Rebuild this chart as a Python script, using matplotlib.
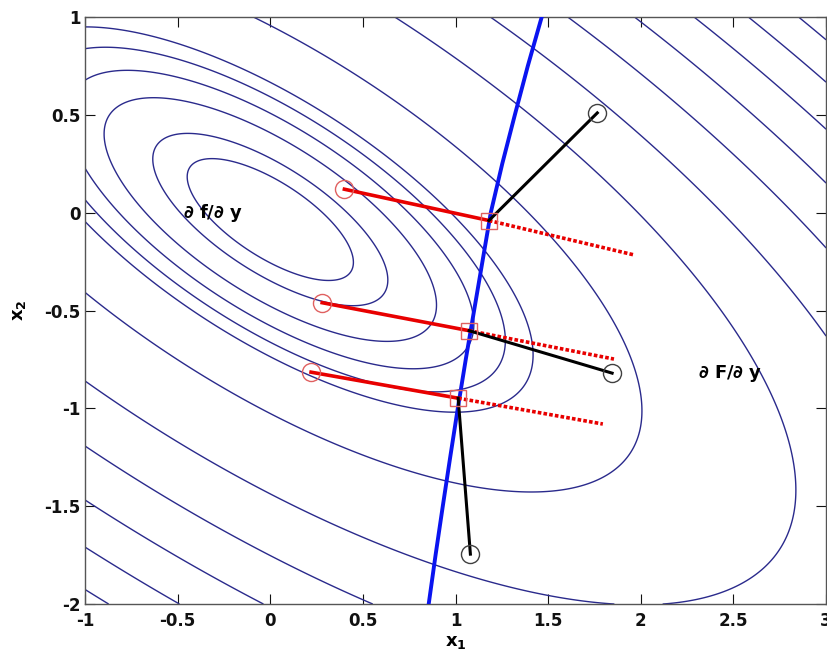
import numpy as np
import matplotlib.pyplot as plt

plt.rcParams['font.family'] = ['DejaVu Sans']
plt.rcParams['font.weight'] = 'bold'

# objective: quadratic bowl, written in coordinates rotated along its valley
centre_x1, centre_x2 = 0.0, -0.035
valley_angle = -31.0          # degrees
semi_u, semi_v = 0.51, 0.195
levels = [1, 2, 4, 6, 8, 10, 20, 40, 60, 80, 100, 120, 140, 160, 180]

# constraint curve (x1 as a function of x2)
curve_x2 = [1.0, 0.75, 0.5, 0.25, 0.0, -0.25, -0.5, -0.75, -1.0, -1.25, -1.5, -1.75, -2.0]
curve_x1 = [1.465, 1.39, 1.32, 1.252, 1.19, 1.145, 1.10, 1.055, 1.012, 0.971, 0.931, 0.892, 0.855]

# starting points, their projections on the constraint, and step directions
start_x1 = [0.40, 0.28, 0.22]
start_x2 = [0.12, -0.46, -0.815]
proj_x1 = [1.18, 1.073, 1.014]
proj_x2 = [-0.04, -0.603, -0.948]
ext_x1 = [1.96, 1.855, 1.795]
ext_x2 = [-0.215, -0.748, -1.08]
grad_x1 = [1.765, 1.845, 1.08]
grad_x2 = [0.51, -0.82, -1.745]

x1_ticks = [-1, -0.5, 0, 0.5, 1, 1.5, 2, 2.5, 3]
x2_ticks = [-2, -1.5, -1, -0.5, 0, 0.5, 1]

fig = plt.figure(figsize=(8.28, 6.6), dpi=100)
ax = fig.add_axes([0.1027, 0.0848, 0.895, 0.8894])

# contour grid
g1, g2 = np.meshgrid(np.linspace(-1, 3, 801), np.linspace(-2, 1, 601))
th = np.deg2rad(valley_angle)
d1, d2 = g1 - centre_x1, g2 - centre_x2
u = d1 * np.cos(th) + d2 * np.sin(th)
v = -d1 * np.sin(th) + d2 * np.cos(th)
Z = (u / semi_u) ** 2 + (v / semi_v) ** 2
ax.contour(g1, g2, Z, levels=levels, colors='#2a2a8c', linewidths=1.0)

ax.plot(curve_x1, curve_x2, color='#0a14f0', lw=2.8, zorder=3)

for i in range(len(start_x1)):
    ax.plot([start_x1[i], proj_x1[i]], [start_x2[i], proj_x2[i]],
            color='#e80000', lw=2.6, zorder=4)
    ax.plot([proj_x1[i], ext_x1[i]], [proj_x2[i], ext_x2[i]],
            color='#e80000', lw=2.6, ls=(0, (1.0, 0.6)), zorder=4)
    ax.plot([proj_x1[i], grad_x1[i]], [proj_x2[i], grad_x2[i]],
            color='black', lw=2.2, zorder=5)

ax.plot(start_x1, start_x2, 'o', ms=13, mfc='none', mec='#e06060', mew=1.0, zorder=6)
ax.plot(proj_x1, proj_x2, 's', ms=11, mfc='none', mec='#e06060', mew=1.0, zorder=6)
ax.plot(grad_x1, grad_x2, 'o', ms=13, mfc='none', mec='#404040', mew=1.0, zorder=6)

ax.text(-0.47, 0.0, r'$\partial$ f/$\partial$ y', fontsize=13, va='center', ha='left')
ax.text(2.31, -0.82, r'$\partial$ F/$\partial$ y', fontsize=13, va='center', ha='left')

ax.set_xlim(-1, 3)
ax.set_ylim(-2, 1)
ax.set_xticks(x1_ticks)
ax.set_xticklabels([f'{t:g}' for t in x1_ticks])
ax.set_yticks(x2_ticks)
ax.set_yticklabels([f'{t:g}' for t in x2_ticks])
ax.tick_params(direction='in', top=True, right=True, length=7, width=0.8,
               labelsize=12, colors='#111111')
ax.tick_params(axis='x', pad=6)
ax.tick_params(axis='y', pad=3)
for s in ax.spines.values():
    s.set_color('#555555')
    s.set_linewidth(1.0)

ax.set_xlabel(r'$\mathbf{x_1}$', fontsize=13, labelpad=2)
ax.set_ylabel(r'$\mathbf{x_2}$', fontsize=13, labelpad=12)

fig.savefig('out.png', dpi=100)
